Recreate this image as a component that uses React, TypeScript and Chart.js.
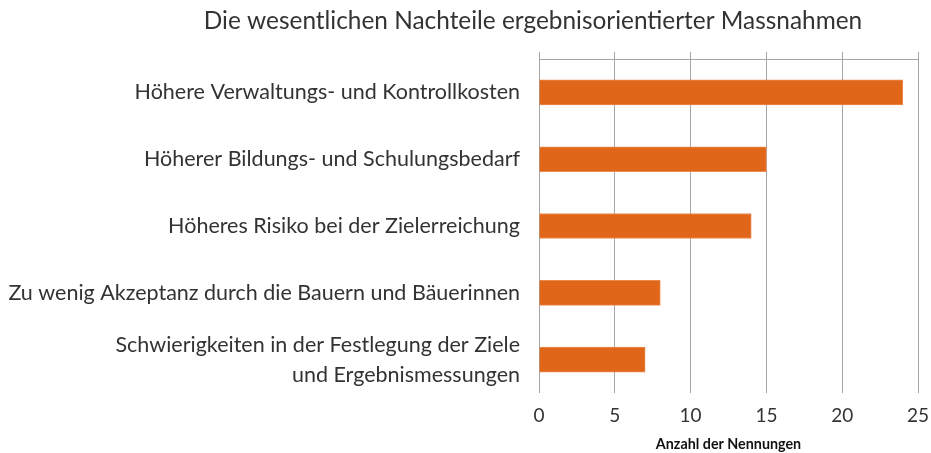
import React, { useEffect, useRef } from "react";
import { Chart, registerables } from "chart.js";

Chart.register(...registerables);

const chartTitle = "Die wesentlichen Nachteile ergebnisorientierter Massnahmen";
const categories: (string | string[])[] = [
  "Höhere Verwaltungs- und Kontrollkosten",
  "Höherer Bildungs- und Schulungsbedarf",
  "Höheres Risiko bei der Zielerreichung",
  "Zu wenig Akzeptanz durch die Bauern und Bäuerinnen",
  ["Schwierigkeiten in der Festlegung der Ziele", "und Ergebnismessungen"],
];
const values = [24, 15, 14, 8, 7];
const axisMin = 0;
const axisMax = 25;
const axisStep = 5;
const axisTitle = "Anzahl der Nennungen";

const FONT = "Lato, 'Open Sans', sans-serif";
const TEXT = "#333333";
const GRID = "#a6a6a6";

const titlePlugin = {
  id: "customTitle",
  afterDraw(chart: any) {
    const ctx = chart.ctx;
    ctx.save();
    ctx.font = `24.4px ${FONT}`;
    ctx.fillStyle = TEXT;
    ctx.textAlign = "center";
    ctx.textBaseline = "middle";
    ctx.fillText(chartTitle, 533, 21);
    ctx.restore();
  },
};

export default function App() {
  const ref = useRef<HTMLCanvasElement | null>(null);
  useEffect(() => {
    document.body.style.margin = "0";
    if (!ref.current) return;
    const chart = new Chart(ref.current, {
      type: "bar",
      data: {
        labels: categories,
        datasets: [
          {
            data: values,
            backgroundColor: "#E0661A",
            borderColor: "#EC8A4E",
            borderWidth: 1,
            barThickness: 25,
          },
        ],
      },
      options: {
        indexAxis: "y",
        animation: false,
        responsive: false,
        layout: { padding: { top: 52, right: 0, left: 0, bottom: 0 } },
        plugins: {
          legend: { display: false },
          tooltip: { enabled: false },
          title: { display: false },
        },
        scales: {
          x: {
            position: "bottom",
            min: axisMin,
            max: axisMax,
            afterFit(scale: any) {
              scale.paddingRight = 13;
              scale.paddingLeft = 0;
            },
            ticks: {
              stepSize: axisStep,
              color: TEXT,
              font: { family: FONT, size: 19 },
              padding: 11,
            },
            grid: { color: GRID, lineWidth: 1, drawTicks: false },
            border: { display: false },
            title: {
              display: true,
              text: axisTitle,
              color: "#111111",
              font: { family: FONT, size: 14.3, weight: "bold" },
              padding: { top: -2, bottom: 0 },
            },
          },
          x2: {
            position: "top",
            min: axisMin,
            max: axisMax,
            ticks: { stepSize: axisStep, display: false },
            grid: { color: GRID, drawOnChartArea: false, drawTicks: true, tickLength: 7 },
            border: { display: true, color: GRID, width: 1 },
          },
          y: {
            afterFit(scale: any) {
              scale.width = 539;
            },
            ticks: {
              color: TEXT,
              font: { family: FONT, size: 21.5, lineHeight: 1.4 },
              padding: 19,
            },
            grid: { display: false, drawTicks: false },
            border: { display: false },
          },
        },
      },
      plugins: [titlePlugin],
    });
    return () => chart.destroy();
  }, []);
  return (
    <div style={{ width: 931, height: 453 }}>
      <canvas ref={ref} width={931} height={453} />
    </div>
  );
}
